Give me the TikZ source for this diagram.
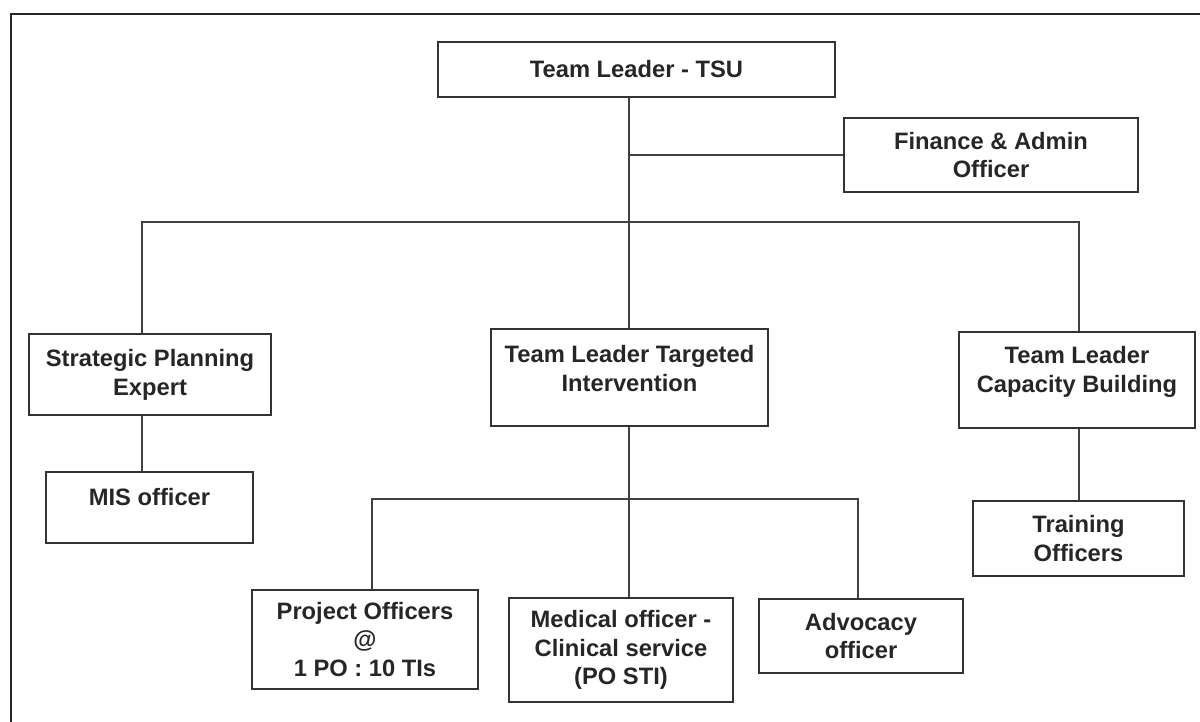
\documentclass[tikz,border=0pt]{standalone}
\usepackage{fontspec}
\setmainfont{Liberation Sans}
\usepackage{tikz}
\usetikzlibrary{positioning}

\begin{document}
\begin{tikzpicture}[
  x=0.02cm, y=-0.02cm,
  orgbox/.style={draw=black!80, line width=1.15pt, rectangle, align=center, inner sep=2pt,
    font=\fontsize{13.5}{16.4}\selectfont\bfseries, text=black!85},
  link/.style={draw=black!75, line width=1.15pt},
  frame/.style={draw=black!85, line width=1.2pt},
]
  \useasboundingbox (0,0) rectangle (1200,722);

  % Outer frame (top and left edge only)
  \draw [frame] (11,722) -- (11,14) -- (1200,14);

  % Top level
  \node (tsu) [orgbox, minimum width=7.94cm, minimum height=1.10cm] at (636.5,69.5) {Team Leader - TSU};
  \node (fin) [orgbox, minimum width=5.88cm, minimum height=1.48cm] at (991,155) {Finance \& Admin\\Officer};

  % Second level
  \node (spe) [orgbox, minimum width=4.84cm, minimum height=1.62cm] at (150,374.5) {Strategic Planning\\Expert};
  \node (tlti) [orgbox, minimum width=5.54cm, minimum height=1.94cm, text depth=0.35cm] at (629.5,377.5) {Team Leader Targeted\\Intervention};
  \node (tlcb) [orgbox, minimum width=4.72cm, minimum height=1.92cm, text depth=0.41cm] at (1077,380) {Team Leader\\Capacity Building};

  % Third level
  \node (mis) [orgbox, minimum width=4.14cm, minimum height=1.42cm, text depth=0.43cm] at (149.5,507.5) {MIS officer};
  \node (train) [orgbox, minimum width=4.22cm, minimum height=1.50cm] at (1078.5,538.5) {Training\\Officers};
  \node (po) [orgbox, minimum width=4.52cm, minimum height=1.98cm] at (365,639.5) {Project Officers\\@\\1 PO : 10 TIs};
  \node (med) [orgbox, minimum width=4.48cm, minimum height=2.08cm] at (621,650) {Medical officer -\\Clinical service\\(PO STI)};
  \node (adv) [orgbox, minimum width=4.08cm, minimum height=1.48cm] at (861,636) {Advocacy\\officer};

  % Bus points
  \coordinate (busL) at (142,222);
  \coordinate (busM) at (629,222);
  \coordinate (busR) at (1079,222);
  \coordinate (subL) at (372,499);
  \coordinate (subM) at (629,499);
  \coordinate (subR) at (858,499);

  % Connect top level
  \draw [link] (tsu.south -| busM) -- (busM);
  \draw [link] (busM |- fin.west) -- (fin.west);
  \draw [link] (busL |- spe.north) -- (busL) -- (busR) -- (busR |- tlcb.north);
  \draw [link] (busM) -- (busM |- tlti.north);

  % Connect lower levels
  \draw [link] (spe.south -| busL) -- (mis.north -| busL);
  \draw [link] (tlcb.south -| busR) -- (train.north -| busR);
  \draw [link] (tlti.south -| subM) -- (subM);
  \draw [link] (subL |- po.north) -- (subL) -- (subR) -- (subR |- adv.north);
  \draw [link] (subM) -- (subM |- med.north);

\end{tikzpicture}
\end{document}
